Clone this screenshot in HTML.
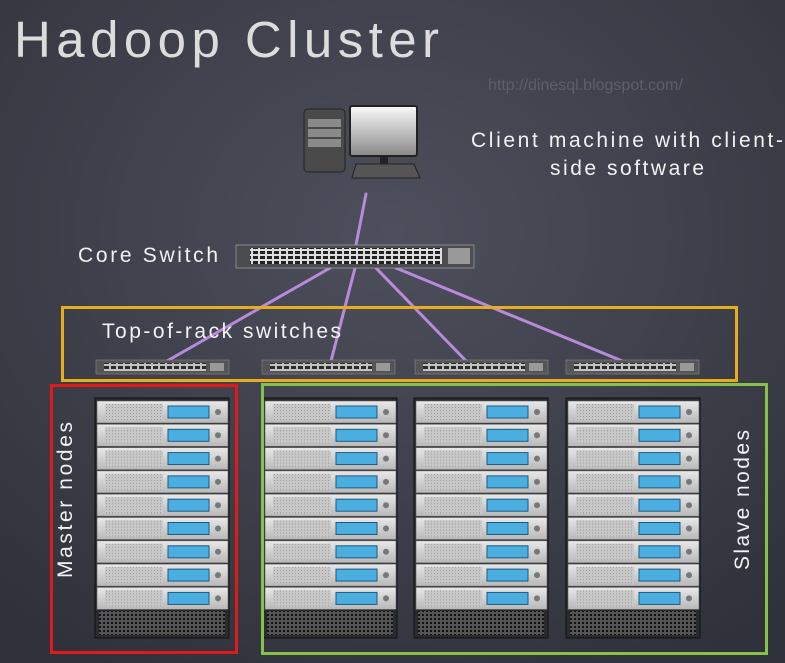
<!DOCTYPE html>
<html><head><meta charset="utf-8"><style>
html,body{margin:0;padding:0;background:#3c3f4a;}
svg{display:block}
text{font-family:"Liberation Sans",sans-serif;fill:#f2f2f2}
</style></head><body>
<svg width="785" height="663" viewBox="0 0 785 663" xmlns="http://www.w3.org/2000/svg">
<defs>
<radialGradient id="bg" cx="0.5" cy="0.35" r="0.75">
<stop offset="0" stop-color="#4d505c"/><stop offset="1" stop-color="#30323b"/></radialGradient>
<linearGradient id="mon" x1="0" y1="0" x2="0" y2="1"><stop offset="0" stop-color="#fafafa"/><stop offset="1" stop-color="#888"/></linearGradient>
<linearGradient id="unit" x1="0" y1="0" x2="0" y2="1"><stop offset="0" stop-color="#e8e8e8"/><stop offset="1" stop-color="#b8b8b8"/></linearGradient>
<pattern id="mesh" width="3" height="3" patternUnits="userSpaceOnUse"><rect width="3" height="3" fill="#c8c8c8"/><rect width="1" height="1" fill="#999"/></pattern>
<pattern id="vent" width="4" height="4" patternUnits="userSpaceOnUse"><rect width="4" height="4" fill="#555"/><rect width="2" height="2" fill="#111"/></pattern>
<pattern id="ports" width="7" height="10" patternUnits="userSpaceOnUse"><rect width="7" height="10" fill="#ddd"/><rect x="1" y="1" width="5" height="3" fill="#222"/><rect x="1" y="6" width="5" height="3" fill="#222"/></pattern>
<g id="unitg">
<rect x="0" y="0" width="131" height="22" fill="url(#unit)" stroke="#666" stroke-width="0.6"/>
<rect x="8" y="3" width="58" height="16" fill="url(#mesh)"/>
<rect x="71" y="5" width="41" height="12" fill="#4aaee0" stroke="#1e5a80" stroke-width="1"/>
<circle cx="121" cy="11" r="3" fill="#777"/>
</g>
<g id="rack">
<rect x="0" y="0" width="134" height="240" fill="#2a2b2f" stroke="#111"/>
<use href="#unitg" x="2" y="3"/><use href="#unitg" x="2" y="26.3"/><use href="#unitg" x="2" y="49.6"/>
<use href="#unitg" x="2" y="72.9"/><use href="#unitg" x="2" y="96.2"/><use href="#unitg" x="2" y="119.5"/>
<use href="#unitg" x="2" y="142.8"/><use href="#unitg" x="2" y="166.1"/><use href="#unitg" x="2" y="189.4"/>
<rect x="4" y="213" width="126" height="24" fill="url(#vent)"/>
</g>
<g id="tor">
<rect x="0" y="0" width="133" height="14" fill="#555" stroke="#888" stroke-width="0.6"/>
<rect x="8" y="3" width="102" height="8" fill="url(#ports)" opacity="0.8"/>
<rect x="114" y="3" width="14" height="8" fill="#999"/>
</g>
</defs>
<rect width="785" height="663" fill="url(#bg)"/>
<text x="14" y="57" font-size="51" textLength="425" lengthAdjust="spacing" style="fill:#dcdcdc">Hadoop Cluster</text>
<text x="488" y="90" font-size="16" style="fill:#5c5f6a">http://dinesql.blogspot.com/</text>
<!-- computer -->
<rect x="304" y="109" width="41" height="63" rx="4" fill="#4a4a4a" stroke="#222"/>
<rect x="308" y="119" width="33" height="8" fill="#8a8a8a"/><rect x="308" y="129" width="33" height="8" fill="#8a8a8a"/><rect x="308" y="139" width="33" height="8" fill="#8a8a8a"/>
<rect x="350" y="106" width="67" height="50" rx="2" fill="url(#mon)" stroke="#222" stroke-width="2"/>
<rect x="380" y="156" width="8" height="8" fill="#222"/>
<polygon points="352,178 420,178 414,164 356,164" fill="#555" stroke="#222"/>
<!-- lines -->
<g stroke="#b88adb" stroke-width="3" stroke-linecap="round">
<line x1="366" y1="194" x2="355" y2="250"/>
<line x1="330" y1="268" x2="160" y2="365"/>
<line x1="355" y1="268" x2="330" y2="365"/>
<line x1="376" y1="268" x2="470" y2="365"/>
<line x1="396" y1="268" x2="632" y2="365"/>
</g>
<!-- core switch -->
<rect x="236" y="245" width="238" height="23" fill="#4a4c50" stroke="#999" stroke-width="0.8"/>
<rect x="250" y="248" width="192" height="16" fill="url(#ports)"/>
<rect x="448" y="248" width="22" height="16" fill="#999"/>
<text x="471" y="147" font-size="21" textLength="312" lengthAdjust="spacing">Client machine with client-</text>
<text x="550" y="175" font-size="21" textLength="154" lengthAdjust="spacing">side software</text>
<text x="78" y="262" font-size="21" textLength="140" lengthAdjust="spacing">Core Switch</text>
<!-- yellow -->
<rect x="62.5" y="307.5" width="674" height="73" fill="none" stroke="#e8ad1e" stroke-width="3"/>
<text x="102" y="338" font-size="21" textLength="239" lengthAdjust="spacing">Top-of-rack switches</text>
<use href="#tor" x="96" y="360"/><use href="#tor" x="262" y="360"/><use href="#tor" x="415" y="360"/><use href="#tor" x="566" y="360"/>
<!-- racks -->
<use href="#rack" x="95" y="398"/><use href="#rack" x="263" y="398"/><use href="#rack" x="414" y="398"/><use href="#rack" x="566" y="398"/>
<rect x="51.5" y="385.5" width="185" height="267" fill="none" stroke="#e01a1a" stroke-width="3"/>
<rect x="262.5" y="384.5" width="504" height="269" fill="none" stroke="#86c24a" stroke-width="3"/>
<text transform="translate(72,578) rotate(-90)" font-size="21" textLength="156" lengthAdjust="spacing">Master nodes</text>
<text transform="translate(749,570) rotate(-90)" font-size="21" textLength="140" lengthAdjust="spacing">Slave nodes</text>
</svg>
</body></html>
